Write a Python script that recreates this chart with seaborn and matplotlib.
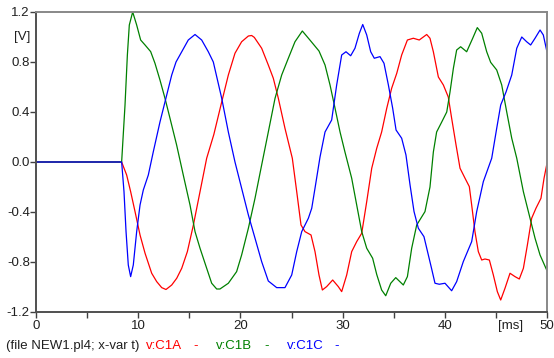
import matplotlib
matplotlib.use("Agg")
import matplotlib.pyplot as plt
import seaborn as sns
import pandas as pd

# Phase voltages (time in ms, voltage in V)
t_c1a = [0, 8.38, 8.87, 9.26, 9.69, 10.18, 10.67, 11.32, 11.81, 12.3, 12.72, 13.28, 13.77,
         14.26, 14.81, 15.4, 16.05, 16.7, 17.4, 18.17, 18.82, 19.47, 20.12, 20.78, 21.1,
         21.36, 22.08, 22.73, 23.22, 23.71, 24.36, 25.08, 25.51, 25.93, 26.32, 26.91, 27.3,
         27.69, 28.02, 28.44, 29.03, 29.58, 29.91, 30.4, 30.89, 31.38, 31.87, 32.36, 32.85,
         33.34, 33.82, 34.32, 34.8, 35.3, 35.78, 36.34, 36.92, 37.5, 38.23, 38.55, 38.88,
         39.37, 39.86, 40.34, 40.67, 41.1, 41.49, 41.98, 42.4, 42.63, 42.95, 43.28, 43.61,
         43.93, 44.36, 44.75, 45.14, 45.47, 45.89, 46.38, 46.87, 47.29, 47.69, 48.08, 48.5,
         48.92, 49.41, 49.71, 50.0]
v_c1a = [0, 0, -0.104, -0.237, -0.397, -0.584, -0.73, -0.89, -0.957, -1.005, -1.02, -0.984,
         -0.93, -0.85, -0.717, -0.504, -0.237, 0.03, 0.22, 0.48, 0.696, 0.87, 0.962, 1.008,
         1.012, 0.997, 0.91, 0.776, 0.67, 0.51, 0.27, 0.03, -0.237, -0.504, -0.557, -0.584,
         -0.717, -0.904, -1.024, -0.997, -0.944, -0.997, -1.037, -0.904, -0.717, -0.637,
         -0.57, -0.317, -0.05, 0.11, 0.24, 0.43, 0.59, 0.71, 0.856, 0.976, 0.99, 0.976,
         1.02, 0.99, 0.882, 0.68, 0.616, 0.52, 0.35, 0.136, -0.05, -0.13, -0.197, -0.344,
         -0.557, -0.717, -0.784, -0.776, -0.784, -0.904, -1.037, -1.104, -1.01, -0.89,
         -0.917, -0.936, -0.85, -0.664, -0.45, -0.37, -0.29, -0.13, -0.01]

t_c1b = [0, 8.38, 8.71, 8.94, 9.13, 9.46, 9.85, 10.24, 10.67, 11.22, 11.64, 12.13, 12.62,
         13.11, 13.76, 14.41, 15.07, 15.56, 16.05, 16.7, 17.19, 17.68, 18.0, 18.82, 19.63,
         20.12, 20.78, 21.43, 22.08, 22.73, 23.39, 24.04, 24.69, 25.34, 26.06, 26.8, 27.69,
         28.28, 28.77, 29.26, 29.75, 30.23, 30.89, 31.38, 31.87, 32.36, 32.94, 33.34, 33.82,
         34.22, 34.71, 35.2, 35.94, 36.34, 36.76, 37.25, 38.06, 38.55, 38.88, 39.2, 39.7,
         40.19, 40.51, 40.84, 41.16, 41.55, 42.14, 42.73, 43.18, 43.61, 44.1, 44.49, 45.08,
         45.57, 46.06, 46.55, 47.04, 47.69, 48.34, 48.83, 49.32, 50.0]
v_c1b = [0, 0, 0.456, 0.856, 1.096, 1.2, 1.096, 0.976, 0.936, 0.883, 0.79, 0.656, 0.51, 0.35,
         0.136, -0.104, -0.344, -0.557, -0.69, -0.85, -0.97, -1.016, -1.016, -0.97, -0.877,
         -0.744, -0.53, -0.29, -0.024, 0.24, 0.51, 0.696, 0.83, 0.962, 1.048, 0.976, 0.888,
         0.776, 0.616, 0.43, 0.24, 0.08, -0.13, -0.344, -0.557, -0.69, -0.77, -0.9, -1.024,
         -1.07, -0.97, -0.925, -0.984, -0.917, -0.69, -0.504, -0.397, -0.2, 0.08, 0.24, 0.32,
         0.4, 0.56, 0.75, 0.896, 0.922, 0.882, 0.99, 1.075, 1.03, 0.882, 0.797, 0.736, 0.616,
         0.4, 0.19, 0.03, -0.238, -0.45, -0.61, -0.744, -0.87]

t_c1c = [0, 8.38, 8.61, 8.81, 9.03, 9.26, 9.52, 9.85, 10.18, 10.5, 10.99, 11.48, 12.13,
         12.79, 13.28, 13.7, 14.26, 14.9, 15.56, 16.21, 16.86, 17.35, 18.17, 18.82, 19.47,
         20.12, 20.78, 21.43, 22.08, 22.73, 23.55, 24.36, 25.02, 25.51, 26.0, 26.65, 26.98,
         27.3, 27.79, 28.28, 28.93, 29.42, 29.91, 30.33, 30.79, 31.21, 31.64, 31.97, 32.36,
         32.75, 33.1, 33.66, 34.05, 34.48, 34.9, 35.23, 35.78, 36.2, 36.6, 36.99, 37.41,
         37.96, 38.39, 38.7, 39.04, 39.46, 40.02, 40.67, 41.16, 41.81, 42.63, 43.12, 43.77,
         44.59, 45.08, 45.47, 45.99, 46.55, 47.04, 47.53, 48.01, 48.4, 48.83, 49.32, 49.64,
         50.0]
v_c1c = [0, 0, -0.237, -0.557, -0.824, -0.917, -0.824, -0.557, -0.344, -0.224, -0.104,
         0.083, 0.32, 0.536, 0.696, 0.8, 0.882, 0.976, 1.02, 0.976, 0.882, 0.8, 0.51, 0.24,
         0.0, -0.21, -0.424, -0.61, -0.797, -0.952, -1.005, -1.005, -0.904, -0.717, -0.557,
         -0.45, -0.37, -0.21, 0.04, 0.24, 0.336, 0.616, 0.856, 0.882, 0.85, 0.91, 1.03, 1.1,
         1.016, 0.882, 0.83, 0.843, 0.79, 0.616, 0.43, 0.256, 0.19, 0.056, -0.184, -0.397,
         -0.53, -0.597, -0.744, -0.85, -0.97, -0.978, -0.97, -1.03, -0.957, -0.797, -0.637,
         -0.397, -0.157, 0.03, 0.27, 0.456, 0.56, 0.696, 0.91, 1.0, 0.962, 0.936, 0.99,
         1.056, 1.016, 0.88]

names = ['v:C1A', 'v:C1B', 'v:C1C']
colors = ['#ff0000', '#008000', '#0000ff']

y_ticks = [-1.2, -0.8, -0.4, 0.0, 0.4, 0.8, 1.2]
x_ticks = [0, 5, 10, 15, 20, 25, 30, 35, 40, 45, 50]
x_labels = ['0', '', '10', '', '20', '', '30', '', '40', '', '50']

frames = []
for name, t, v in zip(names, [t_c1a, t_c1b, t_c1c], [v_c1a, v_c1b, v_c1c]):
    frames.append(pd.DataFrame({'t': t, 'v': v, 'signal': name}))
df = pd.concat(frames, ignore_index=True)

sns.set_style("ticks")
plt.rcParams['font.family'] = ['Liberation Sans', 'DejaVu Sans']
fs = 9.5

fig = plt.figure(figsize=(5.54, 3.58), dpi=100)
ax = fig.add_axes([36 / 554, 1 - 312 / 358, (547 - 36) / 554, 300 / 358])

sns.lineplot(data=df, x='t', y='v', hue='signal', palette=colors, estimator=None,
             sort=False, linewidth=0.9, legend=False, ax=ax)

ax.set_xlim(0, 50)
ax.set_ylim(-1.2, 1.2)
ax.set_xticks(x_ticks)
ax.set_xticklabels(x_labels)
ax.set_yticks(y_ticks)
ax.set_yticklabels(['%.1f' % y for y in y_ticks])
ax.set_xlabel('')
ax.set_ylabel('')
ax.tick_params(direction='out', length=4, width=1, color='#404040', labelsize=fs,
               labelcolor='#202020', bottom=True, left=True)
ax.tick_params(axis='y', pad=0.5)
ax.tick_params(axis='x', pad=2)
for side, s in ax.spines.items():
    s.set_visible(True)
    s.set_linewidth(1.4)
    s.set_color('#505050' if side in ('left', 'bottom') else '#888888')

ax.text(-5.3 / 511, 1.0, '[V]', transform=ax.get_yaxis_transform(), ha='right',
        va='center', fontsize=fs, color='#202020')
ax.text(46.4, -8 / 300, '[ms]', transform=ax.get_xaxis_transform(), ha='center', va='top',
        fontsize=fs, color='#202020')

# footer line with file info and signal names
fy = 1 - 346 / 358
fig.text(6 / 554, fy, '(file NEW1.pl4; x-var t)', ha='left', va='center', fontsize=fs,
         color='#202020')
for name, col, x0, x1 in zip(names, colors, [146, 216, 287], [193, 264, 334]):
    fig.text(x0 / 554, fy, name, ha='left', va='center', fontsize=fs, color=col)
    fig.text(x1 / 554, fy, '-', ha='left', va='center', fontsize=fs, color=col)

fig.savefig('out.png', dpi=100)
